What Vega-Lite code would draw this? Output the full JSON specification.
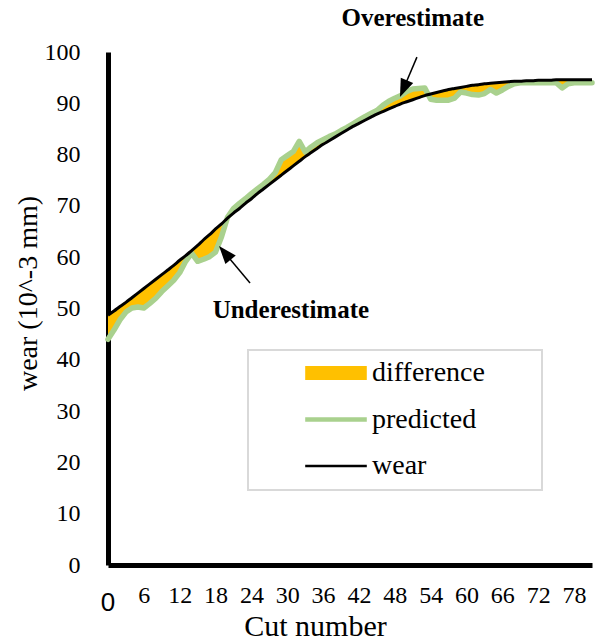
{
  "$schema": "https://vega.github.io/schema/vega-lite/v6.json",
  "width": 484,
  "height": 513,
  "autosize": {"type": "none"},
  "padding": {"left": 108, "top": 52, "right": 5, "bottom": 77},
  "background": "white",
  "config": {
    "view": {"stroke": null},
    "font": "Liberation Serif",
    "axis": {
      "grid": false,
      "ticks": false,
      "domainColor": "#000000",
      "domainWidth": 5,
      "labelColor": "#000000",
      "labelFont": "Liberation Serif",
      "titleFont": "Liberation Serif",
      "titleFontWeight": "normal",
      "titleColor": "#000000",
      "labelOverlap": false
    },
    "axisX": {
      "labelFlush": false,
      "labelOverlap": false,
      "labelPadding": 18,
      "labelFontSize": 24,
      "titleFontSize": 30
    },
    "axisY": {
      "labelPadding": 28,
      "labelFontSize": 24,
      "labelOverlap": false,
      "titleFontSize": 28
    },
    "legend": {
      "labelFont": "Liberation Serif",
      "labelFontSize": 28,
      "labelColor": "#000000",
      "labelLimit": 400
    }
  },
  "datasets": {
    "series": [
      {"cut": 0, "wear": 48.7, "predicted": 44.0},
      {"cut": 1, "wear": 49.5, "predicted": 45.8},
      {"cut": 2, "wear": 50.4, "predicted": 47.8},
      {"cut": 3, "wear": 51.2, "predicted": 49.3},
      {"cut": 4, "wear": 52.1, "predicted": 50.1},
      {"cut": 5, "wear": 53.0, "predicted": 50.3},
      {"cut": 6, "wear": 53.9, "predicted": 50.1},
      {"cut": 7, "wear": 54.8, "predicted": 51.0},
      {"cut": 8, "wear": 55.7, "predicted": 52.0},
      {"cut": 9, "wear": 56.6, "predicted": 53.3},
      {"cut": 10, "wear": 57.5, "predicted": 54.4},
      {"cut": 11, "wear": 58.4, "predicted": 55.5},
      {"cut": 12, "wear": 59.4, "predicted": 57.0},
      {"cut": 13, "wear": 60.3, "predicted": 59.2},
      {"cut": 14, "wear": 61.3, "predicted": 60.8},
      {"cut": 15, "wear": 62.3, "predicted": 59.2},
      {"cut": 16, "wear": 63.4, "predicted": 59.6},
      {"cut": 17, "wear": 64.4, "predicted": 60.1},
      {"cut": 18, "wear": 65.5, "predicted": 61.0},
      {"cut": 19, "wear": 66.5, "predicted": 64.0},
      {"cut": 20, "wear": 67.6, "predicted": 67.8},
      {"cut": 21, "wear": 68.6, "predicted": 69.5},
      {"cut": 22, "wear": 69.5, "predicted": 70.5},
      {"cut": 23, "wear": 70.5, "predicted": 71.4},
      {"cut": 24, "wear": 71.4, "predicted": 72.4},
      {"cut": 25, "wear": 72.4, "predicted": 73.3},
      {"cut": 26, "wear": 73.3, "predicted": 74.2},
      {"cut": 27, "wear": 74.2, "predicted": 75.2},
      {"cut": 28, "wear": 75.1, "predicted": 76.5},
      {"cut": 29, "wear": 76.0, "predicted": 79.0},
      {"cut": 30, "wear": 76.9, "predicted": 79.8},
      {"cut": 31, "wear": 77.8, "predicted": 80.6},
      {"cut": 32, "wear": 78.7, "predicted": 82.6},
      {"cut": 33, "wear": 79.6, "predicted": 80.5},
      {"cut": 34, "wear": 80.4, "predicted": 81.5},
      {"cut": 35, "wear": 81.2, "predicted": 82.3},
      {"cut": 36, "wear": 82.0, "predicted": 82.9},
      {"cut": 37, "wear": 82.7, "predicted": 83.5},
      {"cut": 38, "wear": 83.4, "predicted": 84.0},
      {"cut": 39, "wear": 84.1, "predicted": 84.7},
      {"cut": 40, "wear": 84.8, "predicted": 85.3},
      {"cut": 41, "wear": 85.5, "predicted": 86.0},
      {"cut": 42, "wear": 86.1, "predicted": 86.7},
      {"cut": 43, "wear": 86.7, "predicted": 87.4},
      {"cut": 44, "wear": 87.3, "predicted": 88.0},
      {"cut": 45, "wear": 87.9, "predicted": 88.6},
      {"cut": 46, "wear": 88.4, "predicted": 89.6},
      {"cut": 47, "wear": 88.9, "predicted": 90.4},
      {"cut": 48, "wear": 89.4, "predicted": 91.0},
      {"cut": 49, "wear": 89.9, "predicted": 91.5},
      {"cut": 50, "wear": 90.3, "predicted": 92.3},
      {"cut": 51, "wear": 90.7, "predicted": 92.8},
      {"cut": 52, "wear": 91.1, "predicted": 92.9},
      {"cut": 53, "wear": 91.5, "predicted": 93.0},
      {"cut": 54, "wear": 91.8, "predicted": 90.8},
      {"cut": 55, "wear": 92.1, "predicted": 90.6},
      {"cut": 56, "wear": 92.4, "predicted": 90.6},
      {"cut": 57, "wear": 92.7, "predicted": 90.6},
      {"cut": 58, "wear": 92.9, "predicted": 91.0},
      {"cut": 59, "wear": 93.1, "predicted": 92.2},
      {"cut": 60, "wear": 93.3, "predicted": 92.0},
      {"cut": 61, "wear": 93.5, "predicted": 91.7},
      {"cut": 62, "wear": 93.6, "predicted": 91.6},
      {"cut": 63, "wear": 93.8, "predicted": 91.9},
      {"cut": 64, "wear": 93.9, "predicted": 92.7},
      {"cut": 65, "wear": 94.0, "predicted": 92.0},
      {"cut": 66, "wear": 94.1, "predicted": 92.6},
      {"cut": 67, "wear": 94.2, "predicted": 93.3},
      {"cut": 68, "wear": 94.3, "predicted": 93.8},
      {"cut": 69, "wear": 94.3, "predicted": 94.0},
      {"cut": 70, "wear": 94.4, "predicted": 94.0},
      {"cut": 71, "wear": 94.4, "predicted": 94.0},
      {"cut": 72, "wear": 94.5, "predicted": 94.0},
      {"cut": 73, "wear": 94.5, "predicted": 94.0},
      {"cut": 74, "wear": 94.5, "predicted": 94.0},
      {"cut": 75, "wear": 94.6, "predicted": 94.0},
      {"cut": 76, "wear": 94.6, "predicted": 93.0},
      {"cut": 77, "wear": 94.6, "predicted": 93.8},
      {"cut": 78, "wear": 94.6, "predicted": 94.0},
      {"cut": 79, "wear": 94.6, "predicted": 94.0},
      {"cut": 80, "wear": 94.6, "predicted": 94.0},
      {"cut": 81, "wear": 94.6, "predicted": 94.0}
    ],
    "arrows": [
      {"label": "Overestimate", "x": 51.7, "y": 99.0, "x2": 49.45, "y2": 92.85, "angle": 203},
      {"label": "Underestimate", "x": 23.77, "y": 54.97, "x2": 19.55, "y2": 60.84, "angle": 320}
    ],
    "notes": [
      {"text": "Overestimate", "x": 51.0, "y": 106.6},
      {"text": "Underestimate", "x": 30.6, "y": 49.7}
    ],
    "origin": [
      {"text": "0", "x": 0, "y": -7.4}
    ]
  },
  "layer": [
    {
      "data": {"name": "series"},
      "mark": {"type": "area", "opacity": 1},
      "encoding": {
        "x": {
          "field": "cut",
          "type": "quantitative",
          "scale": {"domain": [0, 81], "nice": false, "zero": false},
          "axis": {
            "title": "Cut number",
            "values": [6, 12, 18, 24, 30, 36, 42, 48, 54, 60, 66, 72, 78],
            "labelOverlap": false,
            "labelFlush": false,
            "labelFont": "Liberation Serif",
            "labelFontSize": 24,
            "titleFont": "Liberation Serif",
            "titleX": 207,
            "titleY": 70,
            "titleBaseline": "alphabetic"
          }
        },
        "y": {
          "field": "wear",
          "type": "quantitative",
          "scale": {"domain": [0, 100], "nice": false},
          "axis": {
            "title": "wear (10^-3 mm)",
            "values": [0, 10, 20, 30, 40, 50, 60, 70, 80, 90, 100],
            "labelFont": "Liberation Serif",
            "labelFontSize": 24,
            "titleFont": "Liberation Serif",
            "titlePadding": 2,
            "titleY": 241
          }
        },
        "y2": {"field": "predicted"},
        "color": {
          "datum": "difference",
          "type": "nominal",
          "scale": {"domain": ["difference", "predicted", "wear"], "range": ["#FFC000", "#A9D18E", "#000000"]},
          "legend": {
            "title": null,
            "orient": "none",
            "legendX": 140,
            "legendY": 298,
            "padding": 10,
            "rowPadding": 18.5,
            "clipHeight": 26,
            "symbolSize": 196,
            "symbolOffset": 64,
            "labelOffset": 22,
            "labelLimit": 400,
            "labelFont": "Liberation Serif",
            "strokeColor": "#d9d9d9",
            "encode": {
              "legend": {"update": {"strokeWidth": {"value": 2}}},
              "entries": {"update": {"width": {"value": 274}, "height": {"value": 26}}},
              "symbols": {
                "update": {
                  "shape": {"signal": "datum.value === 'difference' ? 'M-4.4,-1H4.4V1H-4.4Z' : 'M-4.4,0H4.4'"},
                  "fill": {"signal": "datum.value === 'difference' ? '#FFC000' : 'transparent'"},
                  "stroke": {"signal": "datum.value === 'predicted' ? '#A9D18E' : datum.value === 'wear' ? '#000000' : 'transparent'"},
                  "strokeWidth": {"signal": "datum.value === 'predicted' ? 4.5 : datum.value === 'wear' ? 2.5 : 0"},
                  "opacity": {"value": 1}
                }
              }
            }
          }
        }
      }
    },
    {
      "data": {"name": "series"},
      "mark": {"type": "line", "strokeWidth": 5.5, "strokeJoin": "round", "strokeCap": "round"},
      "encoding": {
        "x": {"field": "cut", "type": "quantitative"},
        "y": {"field": "predicted", "type": "quantitative"},
        "color": {
          "datum": "predicted",
          "type": "nominal",
          "legend": {
            "title": null,
            "orient": "none",
            "legendX": 140,
            "legendY": 298,
            "padding": 10,
            "rowPadding": 18.5,
            "clipHeight": 26,
            "symbolSize": 196,
            "symbolOffset": 64,
            "labelOffset": 22,
            "labelLimit": 400,
            "labelFont": "Liberation Serif",
            "strokeColor": "#d9d9d9",
            "encode": {
              "legend": {"update": {"strokeWidth": {"value": 2}}},
              "entries": {"update": {"width": {"value": 274}, "height": {"value": 26}}},
              "symbols": {
                "update": {
                  "shape": {"signal": "datum.value === 'difference' ? 'M-4.4,-1H4.4V1H-4.4Z' : 'M-4.4,0H4.4'"},
                  "fill": {"signal": "datum.value === 'difference' ? '#FFC000' : 'transparent'"},
                  "stroke": {"signal": "datum.value === 'predicted' ? '#A9D18E' : datum.value === 'wear' ? '#000000' : 'transparent'"},
                  "strokeWidth": {"signal": "datum.value === 'predicted' ? 4.5 : datum.value === 'wear' ? 2.5 : 0"},
                  "opacity": {"value": 1}
                }
              }
            }
          }
        }
      }
    },
    {
      "data": {"name": "series"},
      "mark": {"type": "line", "strokeWidth": 3, "strokeJoin": "round", "interpolate": "monotone"},
      "encoding": {
        "x": {"field": "cut", "type": "quantitative"},
        "y": {"field": "wear", "type": "quantitative"},
        "color": {
          "datum": "wear",
          "type": "nominal",
          "legend": {
            "title": null,
            "orient": "none",
            "legendX": 140,
            "legendY": 298,
            "padding": 10,
            "rowPadding": 18.5,
            "clipHeight": 26,
            "symbolSize": 196,
            "symbolOffset": 64,
            "labelOffset": 22,
            "labelLimit": 400,
            "labelFont": "Liberation Serif",
            "strokeColor": "#d9d9d9",
            "encode": {
              "legend": {"update": {"strokeWidth": {"value": 2}}},
              "entries": {"update": {"width": {"value": 274}, "height": {"value": 26}}},
              "symbols": {
                "update": {
                  "shape": {"signal": "datum.value === 'difference' ? 'M-4.4,-1H4.4V1H-4.4Z' : 'M-4.4,0H4.4'"},
                  "fill": {"signal": "datum.value === 'difference' ? '#FFC000' : 'transparent'"},
                  "stroke": {"signal": "datum.value === 'predicted' ? '#A9D18E' : datum.value === 'wear' ? '#000000' : 'transparent'"},
                  "strokeWidth": {"signal": "datum.value === 'predicted' ? 4.5 : datum.value === 'wear' ? 2.5 : 0"},
                  "opacity": {"value": 1}
                }
              }
            }
          }
        }
      }
    },
    {
      "data": {"name": "arrows"},
      "mark": {"type": "rule", "color": "#000000", "strokeWidth": 1.5},
      "encoding": {
        "x": {"field": "x", "type": "quantitative"},
        "y": {"field": "y", "type": "quantitative"},
        "x2": {"field": "x2"},
        "y2": {"field": "y2"}
      }
    },
    {
      "data": {"name": "arrows"},
      "mark": {"type": "point", "shape": "M0,-1L0.75,1L-0.75,1Z", "filled": true, "color": "#000000", "opacity": 1, "size": 324},
      "encoding": {
        "x": {"field": "x2", "type": "quantitative"},
        "y": {"field": "y2", "type": "quantitative"},
        "angle": {"field": "angle", "type": "quantitative", "scale": null}
      }
    },
    {
      "data": {"name": "notes"},
      "mark": {"type": "text", "font": "Liberation Serif", "fontWeight": "bold", "fontSize": 25, "color": "#000000", "align": "center", "baseline": "middle"},
      "encoding": {
        "x": {"field": "x", "type": "quantitative"},
        "y": {"field": "y", "type": "quantitative"},
        "text": {"field": "text"}
      }
    },
    {
      "data": {"name": "origin"},
      "mark": {"type": "text", "font": "Liberation Sans", "fontSize": 26, "color": "#000000", "align": "center", "baseline": "middle"},
      "encoding": {
        "x": {"field": "x", "type": "quantitative"},
        "y": {"field": "y", "type": "quantitative"},
        "text": {"field": "text"}
      }
    }
  ]
}
